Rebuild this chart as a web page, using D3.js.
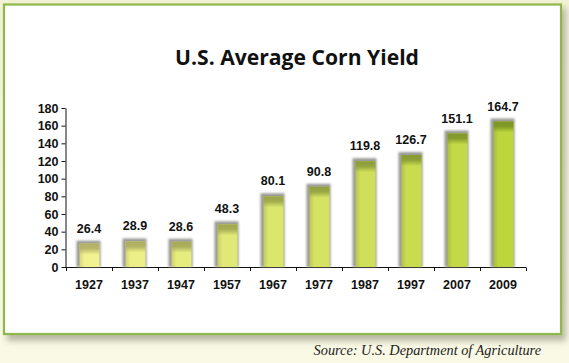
<!DOCTYPE html>
<html>
<head>
<meta charset="utf-8">
<script src="https://cdn.jsdelivr.net/npm/d3@7"></script>
<style>
  html, body { margin: 0; padding: 0; background: #f6f6dc; }
  svg { display: block; }
</style>
</head>
<body>
<div id="chart"></div>
<script>
const categories = ["1927", "1937", "1947", "1957", "1967", "1977", "1987", "1997", "2007", "2009"];
const yieldValues = [26.4, 28.9, 28.6, 48.3, 80.1, 90.8, 119.8, 126.7, 151.1, 164.7];
const yTicks = [0, 20, 40, 60, 80, 100, 120, 140, 160, 180];
const titleText = "U.S. Average Corn Yield";
const sourceText = "Source: U.S. Department of Agriculture";

const W = 569, H = 363;
const svg = d3.select("#chart").append("svg").attr("width", W).attr("height", H);
const defs = svg.append("defs");

// background gradient
const bg = defs.append("linearGradient").attr("id", "bg").attr("x1", 0).attr("y1", 0).attr("x2", 0).attr("y2", 1);
bg.append("stop").attr("offset", 0).attr("stop-color", "#f2f2d4");
bg.append("stop").attr("offset", 1).attr("stop-color", "#f9f9e6");
svg.append("rect").attr("width", W).attr("height", H).attr("fill", "url(#bg)");

// panel shadow
const blurPanel = defs.append("filter").attr("id", "blurPanel").attr("x", "-10%").attr("y", "-10%").attr("width", "120%").attr("height", "130%");
blurPanel.append("feGaussianBlur").attr("stdDeviation", 3);
svg.append("rect").attr("x", 7).attr("y", 8).attr("width", 559).attr("height", 333)
  .attr("fill", "#b8b8a4").attr("filter", "url(#blurPanel)");

// panel
svg.append("rect").attr("x", 4).attr("y", 4.5).attr("width", 557).attr("height", 329.5)
  .attr("fill", "#ffffff").attr("stroke", "#8fb84a").attr("stroke-width", 2.2);

// title
svg.append("text").attr("x", 297).attr("y", 65).attr("text-anchor", "middle")
  .attr("font-family", "'Open Sans', Lato, sans-serif").attr("font-weight", 700)
  .attr("font-size", 21).attr("fill", "#111")
  .attr("textLength", 244).attr("lengthAdjust", "spacingAndGlyphs")
  .text(titleText);

// source
svg.append("text").attr("x", 541).attr("y", 355).attr("text-anchor", "end")
  .attr("font-family", "'Liberation Serif', 'DejaVu Serif', serif").attr("font-style", "italic")
  .attr("font-size", 14.3).attr("fill", "#222").text(sourceText);

// scales
const x = d3.scaleBand().domain(categories).range([66, 526]).padding(0);
const y = d3.scaleLinear().domain([0, 180]).range([267, 108]);

// axes
const yAxis = d3.axisLeft(y).tickValues(yTicks).tickSize(4).tickPadding(3).tickSizeOuter(0);
const gy = svg.append("g").attr("transform", "translate(65.5,0)").call(yAxis);
gy.selectAll("text").attr("font-family", "'Liberation Sans', Arial, sans-serif")
  .attr("font-weight", 700).attr("font-size", 12.5).attr("fill", "#111");
gy.selectAll("line, path").attr("stroke", "#111");

const boundaries = categories.map(c => x(c)).concat([x.range()[1]]);
const gx = svg.append("g");
gx.append("line").attr("x1", 62).attr("x2", 526).attr("y1", 267.5).attr("y2", 267.5).attr("stroke", "#111");
gx.selectAll("line.tk").data(boundaries).enter().append("line").attr("class", "tk")
  .attr("x1", d => d + 0.5).attr("x2", d => d + 0.5).attr("y1", 267.5).attr("y2", 271).attr("stroke", "#111");
gx.selectAll("text").data(categories).enter().append("text")
  .attr("x", d => x(d) + x.bandwidth() / 2).attr("y", 289).attr("text-anchor", "middle")
  .attr("font-family", "'Liberation Sans', Arial, sans-serif").attr("font-weight", 700)
  .attr("font-size", 12.5).attr("fill", "#111").text(d => d);

// bars
const blurBar = defs.append("filter").attr("id", "blurBar").attr("x", "-30%").attr("y", "-10%").attr("width", "160%").attr("height", "120%");
blurBar.append("feGaussianBlur").attr("stdDeviation", 1.3);

const bodyColor = d3.interpolateRgb("#f2f290", "#bdd63e");
const topColor = d3.interpolateRgb("#b2b068", "#7b9424");

const data = categories.map((c, i) => ({ c, v: yieldValues[i], i }));
const n = data.length - 1;

data.forEach(d => {
  const g = defs.append("linearGradient").attr("id", "top" + d.i).attr("x1", 0).attr("y1", 0).attr("x2", 0).attr("y2", 1);
  g.append("stop").attr("offset", 0).attr("stop-color", topColor(d.i / n)).attr("stop-opacity", 1);
  g.append("stop").attr("offset", 0.45).attr("stop-color", topColor(d.i / n)).attr("stop-opacity", 0.9);
  g.append("stop").attr("offset", 1).attr("stop-color", topColor(d.i / n)).attr("stop-opacity", 0);
  const h = defs.append("linearGradient").attr("id", "side" + d.i).attr("x1", 0).attr("y1", 0).attr("x2", 1).attr("y2", 0);
  h.append("stop").attr("offset", 0).attr("stop-color", "#000").attr("stop-opacity", 0.12);
  h.append("stop").attr("offset", 0.25).attr("stop-color", "#000").attr("stop-opacity", 0);
  h.append("stop").attr("offset", 1).attr("stop-color", "#000").attr("stop-opacity", 0);
});

const bars = svg.append("g").selectAll("g").data(data).enter().append("g");
bars.append("rect")
  .attr("x", d => x(d.c) + x.bandwidth() / 2 - 12.5)
  .attr("y", d => y(d.v) - 3)
  .attr("width", 24)
  .attr("height", d => y(0) - y(d.v) + 3)
  .attr("fill", "#9a9a96").attr("filter", "url(#blurBar)");
bars.append("rect")
  .attr("x", d => x(d.c) + x.bandwidth() / 2 - 9.5)
  .attr("y", d => y(d.v))
  .attr("width", 20)
  .attr("height", d => y(0) - y(d.v))
  .attr("fill", d => bodyColor(d.i / n));
bars.append("rect")
  .attr("x", d => x(d.c) + x.bandwidth() / 2 - 9.5)
  .attr("y", d => y(d.v))
  .attr("width", 20)
  .attr("height", d => y(0) - y(d.v))
  .attr("fill", d => "url(#side" + d.i + ")");
bars.append("rect")
  .attr("x", d => x(d.c) + x.bandwidth() / 2 - 9.5)
  .attr("y", d => y(d.v))
  .attr("width", 20)
  .attr("height", d => Math.min(11, y(0) - y(d.v)))
  .attr("fill", d => "url(#top" + d.i + ")");

// value labels
svg.append("g").selectAll("text").data(data).enter().append("text")
  .attr("x", d => x(d.c) + x.bandwidth() / 2).attr("y", d => y(d.v) - 11)
  .attr("text-anchor", "middle")
  .attr("font-family", "'Liberation Sans', Arial, sans-serif").attr("font-weight", 700)
  .attr("font-size", 12.5).attr("fill", "#111").text(d => d.v.toFixed(1));
</script>
</body>
</html>
